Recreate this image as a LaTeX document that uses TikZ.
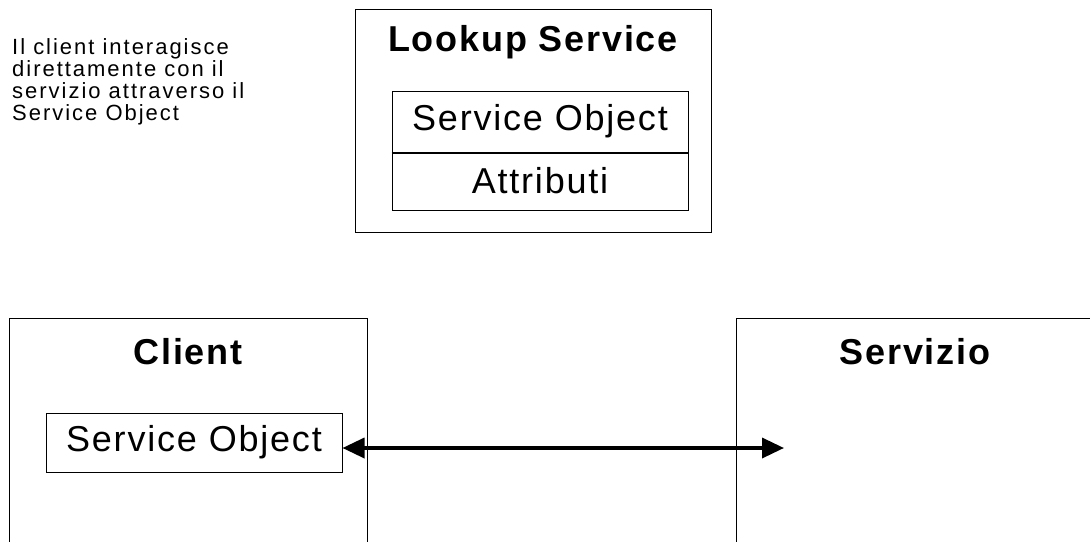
\documentclass[tikz,border=0pt]{standalone}
\usepackage{fontspec}
\setmainfont{Liberation Sans}[LetterSpace=5]
\usetikzlibrary{arrows.meta}

\tikzset{
	box/.style={draw, line width=1pt, inner sep=0pt},
	title/.style={font=\fontsize{36}{40}\selectfont\bfseries},
	label/.style={font=\fontsize{36}{40}\selectfont},
	headtip/.tip={Triangle[length=22pt, width=20pt]}
}

\begin{document}
\begin{tikzpicture}[x=1pt, y=-1pt]
	\useasboundingbox (0, 0) rectangle (1090, 541);
	\clip (0, 0) rectangle (1090, 541);
	% note on the left
	\node [anchor=north west, align=left, inner sep=0pt, font=\fontsize{22}{22}\selectfont\addfontfeatures{LetterSpace=9}] (note) at (12, 38)
		{Il client interagisce\\direttamente con il\\servizio attraverso il\\Service Object};
	% lookup service
	\node [box, minimum width=356pt, minimum height=223pt] (lookup) at (533, 120.5) {};
	\node [title] (lookuptitle) at (533, 42) {Lookup Service};
	\node [box, minimum width=296pt, minimum height=61pt, label] (lso) at (540, 121.5) {Service Object};
	\node [box, minimum width=296pt, minimum height=58pt, label] (attr) at (540, 181) {Attributi};
	\draw [line width=2pt] (lso.south west) -- (lso.south east);
	% client and service
	\node [box, minimum width=358pt, minimum height=300pt] (client) at (188, 468) {};
	\node [title] (clienttitle) at (188, 352) {Client};
	\node [box, minimum width=296pt, minimum height=59pt, label] (cso) at (194, 442.5) {Service Object};
	\node [box, minimum width=400pt, minimum height=300pt] (servizio) at (936, 468) {};
	\node [title] (serviziotitle) at (915, 352) {Servizio};
	\coordinate (target) at (784, 448);
	\draw [line width=3.5pt, headtip-headtip] (cso.east |- target) -- (target);
\end{tikzpicture}
\end{document}
